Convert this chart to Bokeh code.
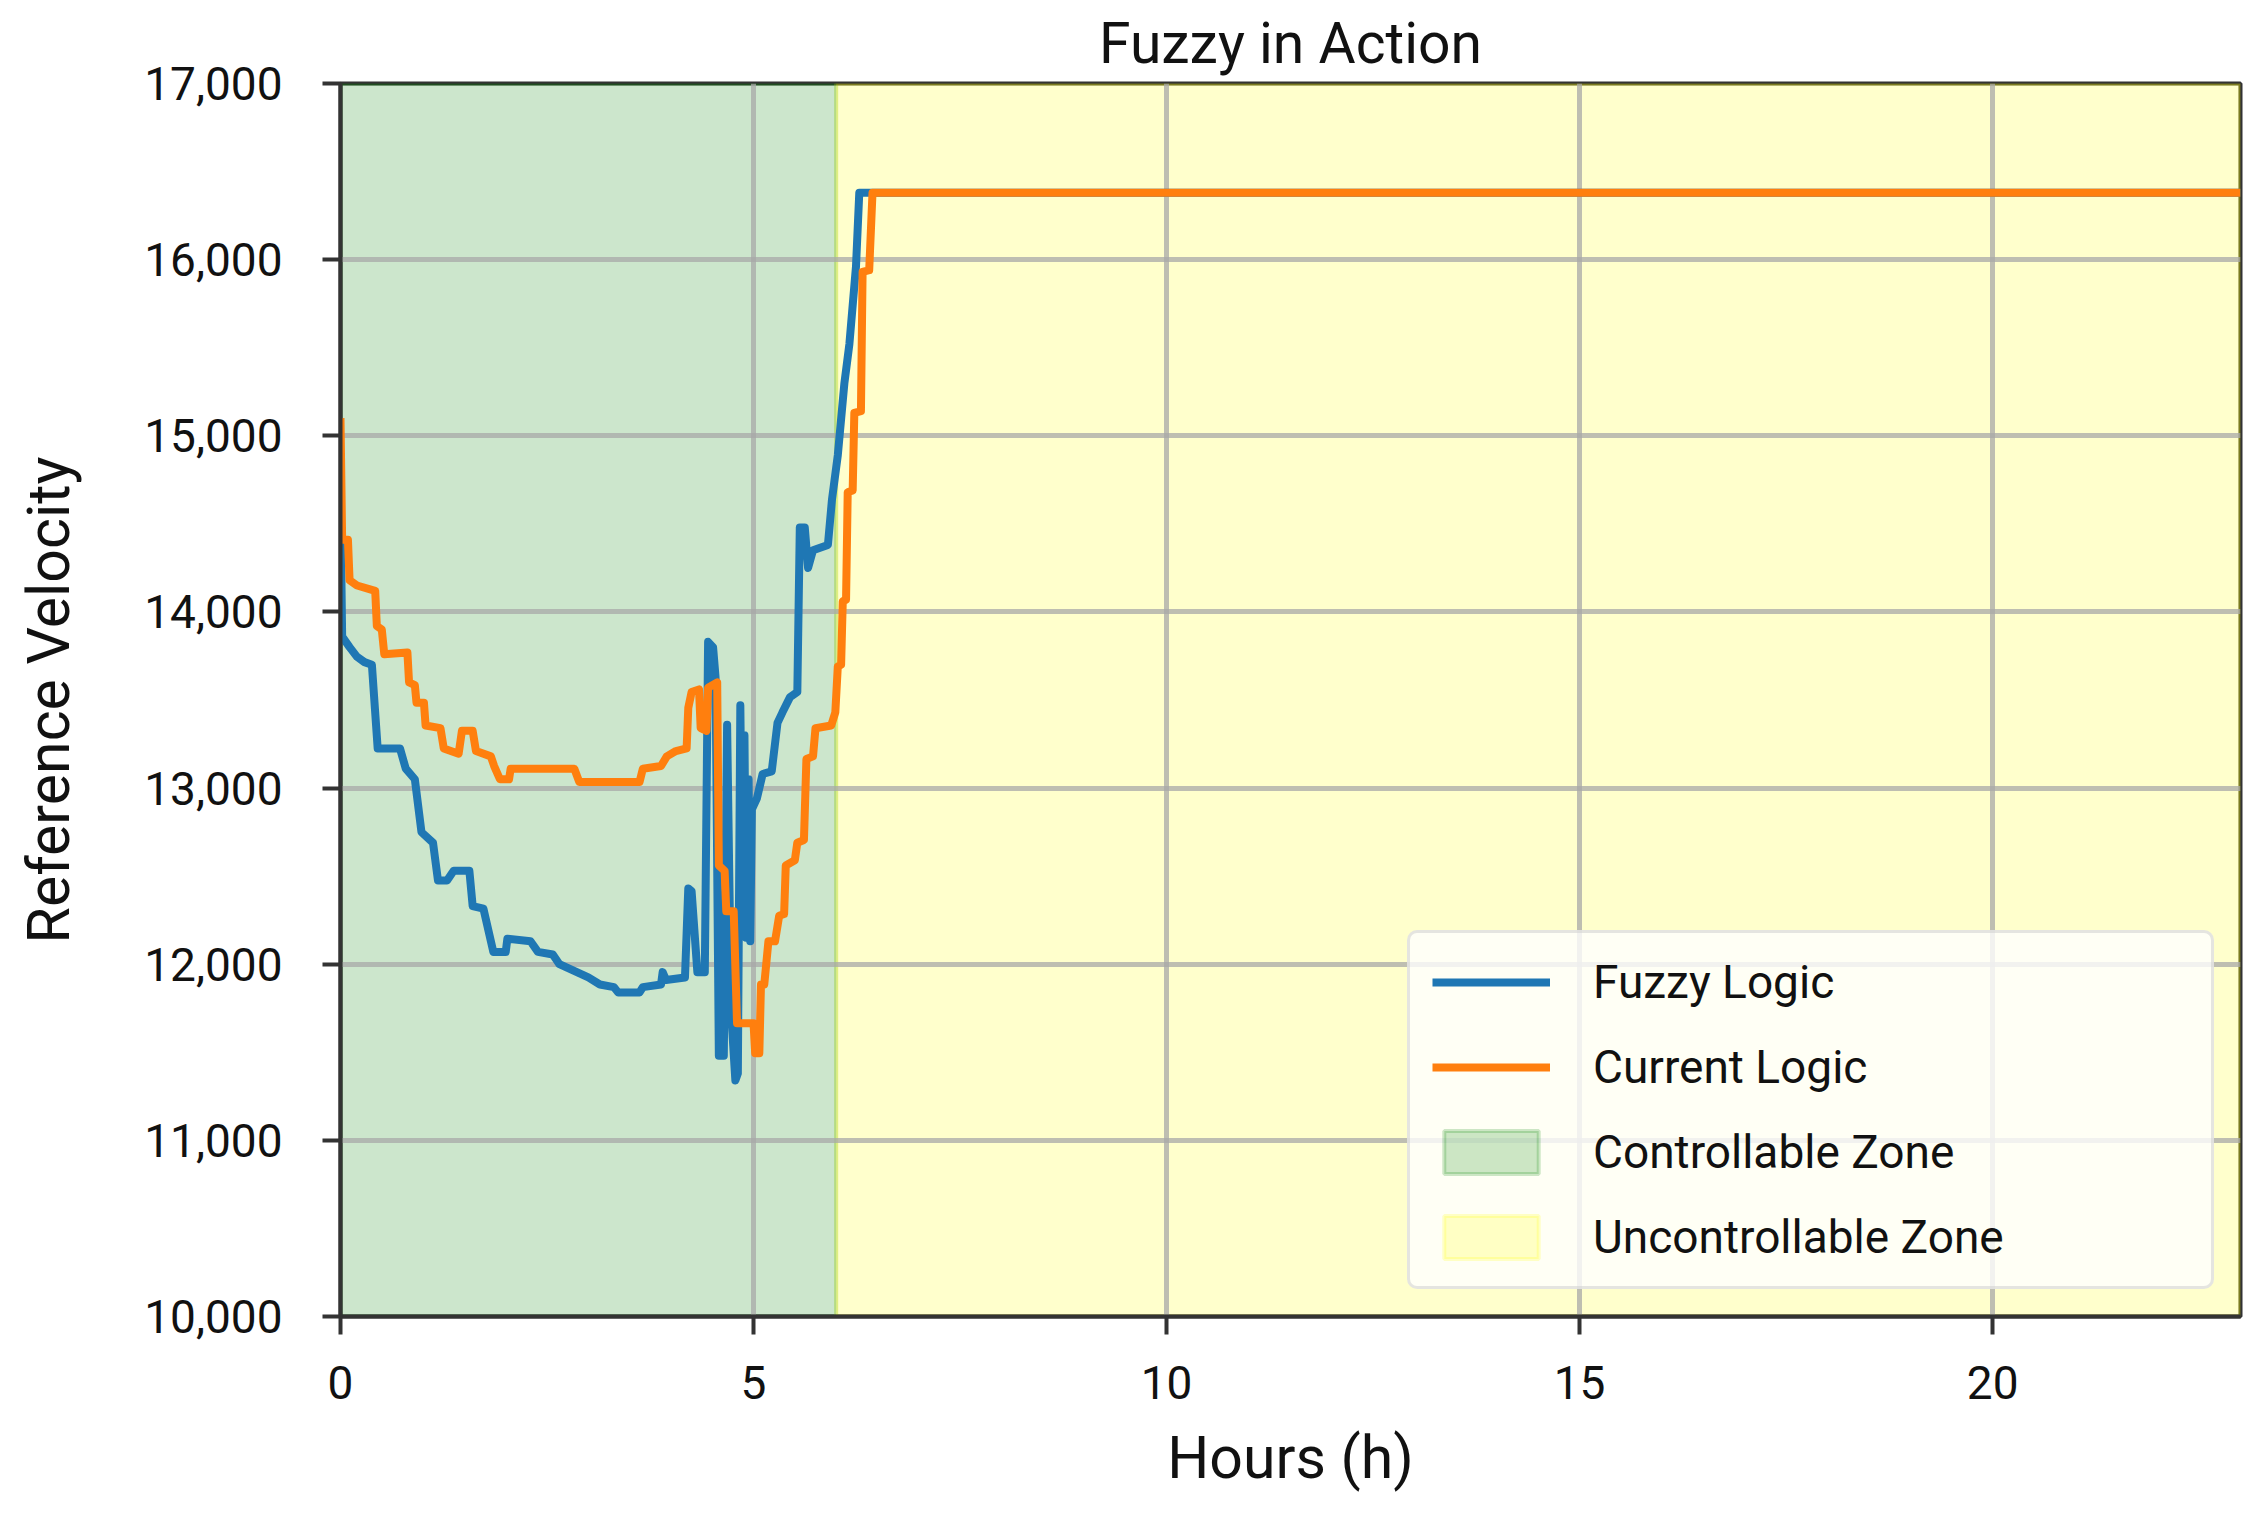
from bokeh.plotting import figure
from bokeh.models import Range1d, NumeralTickFormatter, Legend, LegendItem
from bokeh.embed import file_html
from bokeh.resources import INLINE

TITLE = "Fuzzy in Action"
X_LABEL = "Hours (h)"
Y_LABEL = "Reference Velocity"
x_ticks = [0, 5, 10, 15, 20]
y_ticks = [10000, 11000, 12000, 13000, 14000, 15000, 16000, 17000]
series_names = ["Fuzzy Logic", "Current Logic"]
zone_names = ["Controllable Zone", "Uncontrollable Zone"]
zone_start = [0, 6]
zone_end = [6, 23]

fuzzy_hours = [0.00, 0.02, 0.11, 0.20, 0.29, 0.38, 0.45, 0.72, 0.79, 0.90, 0.98, 1.12, 1.18, 1.29, 1.37,
               1.56, 1.60, 1.73, 1.85, 2.00, 2.02, 2.30, 2.39, 2.57, 2.65, 3.00, 3.14, 3.31, 3.36, 3.62,
               3.66, 3.88, 3.90, 3.94, 4.17, 4.21, 4.25, 4.32, 4.41, 4.45, 4.51, 4.54, 4.58, 4.64, 4.68,
               4.73, 4.78, 4.81, 4.84, 4.87, 4.89, 4.91, 4.94, 4.96, 4.98, 5.04, 5.11, 5.22, 5.29, 5.35,
               5.44, 5.53, 5.56, 5.62, 5.66, 5.72, 5.90, 5.95, 6.02, 6.10, 6.16, 6.24, 6.28, 23.0]
fuzzy_values = [14600, 13860, 13800, 13745, 13715, 13700, 13225, 13225, 13110, 13050, 12750, 12690, 12475,
                12475, 12530, 12530, 12330, 12315, 12070, 12070, 12145, 12130, 12070, 12055, 12000, 11925,
                11885, 11870, 11840, 11840, 11870, 11885, 11955, 11910, 11925, 12430, 12415, 11955, 11955,
                13830, 13800, 13630, 11480, 11480, 13360, 11720, 11340, 11380, 13470, 12200, 13300, 12150,
                13050, 12130, 12880, 12940, 13080, 13095, 13370, 13430, 13515, 13545, 14480, 14480, 14250,
                14350, 14380, 14640, 14890, 15300, 15520, 15960, 16380, 16380]

current_hours = [0.00, 0.02, 0.09, 0.11, 0.20, 0.42, 0.44, 0.50, 0.53, 0.81, 0.83, 0.90, 0.92, 1.01, 1.03,
                 1.21, 1.25, 1.43, 1.47, 1.60, 1.64, 1.82, 1.86, 1.93, 2.04, 2.06, 2.83, 2.89, 3.62, 3.66,
                 3.88, 3.95, 4.06, 4.19, 4.21, 4.25, 4.34, 4.36, 4.43, 4.45, 4.56, 4.58, 4.65, 4.67, 4.76,
                 4.80, 5.00, 5.02, 5.07, 5.09, 5.13, 5.18, 5.26, 5.31, 5.37, 5.39, 5.50, 5.53, 5.61, 5.64,
                 5.72, 5.75, 5.94, 5.99, 6.02, 6.06, 6.08, 6.12, 6.14, 6.20, 6.22, 6.30, 6.32, 6.40, 6.44,
                 23.0]
current_values = [15100, 14410, 14410, 14180, 14150, 14120, 13920, 13900, 13760, 13770, 13600, 13585, 13485,
                  13485, 13355, 13340, 13225, 13195, 13325, 13325, 13210, 13180, 13125, 13050, 13050, 13110,
                  13110, 13035, 13035, 13110, 13125, 13180, 13210, 13225, 13455, 13545, 13560, 13340, 13325,
                  13570, 13600, 12560, 12530, 12300, 12300, 11665, 11665, 11495, 11495, 11885, 11885, 12130,
                  12130, 12275, 12285, 12560, 12590, 12690, 12705, 13165, 13180, 13340, 13355, 13430, 13690,
                  13700, 14060, 14070, 14680, 14690, 15130, 15140, 15930, 15940, 16380, 16380]

FONT = "Roboto"
TXT = "#111111"

p = figure(width=2255, height=1508, output_backend="svg", toolbar_location=None,
           x_range=Range1d(0, 23), y_range=Range1d(10000, 17000),
           min_border_left=340, min_border_right=15, min_border_top=82, min_border_bottom=192)
p.background_fill_color = "white"
p.border_fill_color = "white"

p.title.text = TITLE
p.title.align = "center"
p.title.text_font = FONT
p.title.text_font_size = "57px"
p.title.text_font_style = "normal"
p.title.text_color = TXT
p.title.standoff = 14

green = p.quad(left=[zone_start[0]], right=[zone_end[0]], bottom=[10000], top=[17000],
               fill_color="green", fill_alpha=0.2, line_color="green", line_alpha=0.2, line_width=4,
               level="image")
yellow = p.quad(left=[zone_start[1]], right=[zone_end[1]], bottom=[10000], top=[17000],
                fill_color="yellow", fill_alpha=0.2, line_color="yellow", line_alpha=0.2, line_width=4,
                level="image")

fz = p.line(fuzzy_hours, fuzzy_values, line_color="#1f77b4", line_width=8, line_join="round")
cu = p.line(current_hours, current_values, line_color="#ff7f0e", line_width=8, line_join="round")

for g in (p.xgrid, p.ygrid):
    g.grid_line_color = "#a8a8a8"
    g.grid_line_width = 5
    g.grid_line_alpha = 0.75

p.xaxis.ticker = x_ticks
p.yaxis.ticker = y_ticks
p.yaxis.formatter = NumeralTickFormatter(format="0,0")
for ax in (p.xaxis, p.yaxis):
    ax.major_label_text_font = FONT
    ax.major_label_text_font_size = "46px"
    ax.major_label_text_color = TXT
    ax.axis_label_text_font = FONT
    ax.axis_label_text_font_size = "59px"
    ax.axis_label_text_font_style = "normal"
    ax.axis_label_text_color = TXT
    ax.axis_line_color = "#333333"
    ax.axis_line_width = 4
    ax.major_tick_line_color = "#333333"
    ax.major_tick_line_width = 4
    ax.major_tick_out = 18
    ax.major_tick_in = 0
    ax.minor_tick_line_color = None
p.xaxis.axis_label = X_LABEL
p.yaxis.axis_label = Y_LABEL
p.yaxis.major_label_standoff = 40
p.xaxis.major_label_standoff = 31
p.yaxis.axis_label_standoff = 58
p.xaxis.axis_label_standoff = 21

p.outline_line_color = "#333333"
p.outline_line_width = 4
p.outline_line_alpha = 1.0

legend = Legend(items=[LegendItem(label=series_names[0], renderers=[fz]),
                       LegendItem(label=series_names[1], renderers=[cu]),
                       LegendItem(label=zone_names[0], renderers=[green]),
                       LegendItem(label=zone_names[1], renderers=[yellow])],
                location=(1067, 27), margin=0, padding=22, spacing=31,
                glyph_width=118, glyph_height=54, label_standoff=43, label_width=596,
                label_text_font=FONT, label_text_font_size="46px", label_text_color=TXT,
                border_line_color="#cccccc", border_line_width=3, border_radius=10,
                background_fill_color="white", background_fill_alpha=0.8)
p.add_layout(legend)

open("out.html", "w").write(file_html(p, INLINE))
